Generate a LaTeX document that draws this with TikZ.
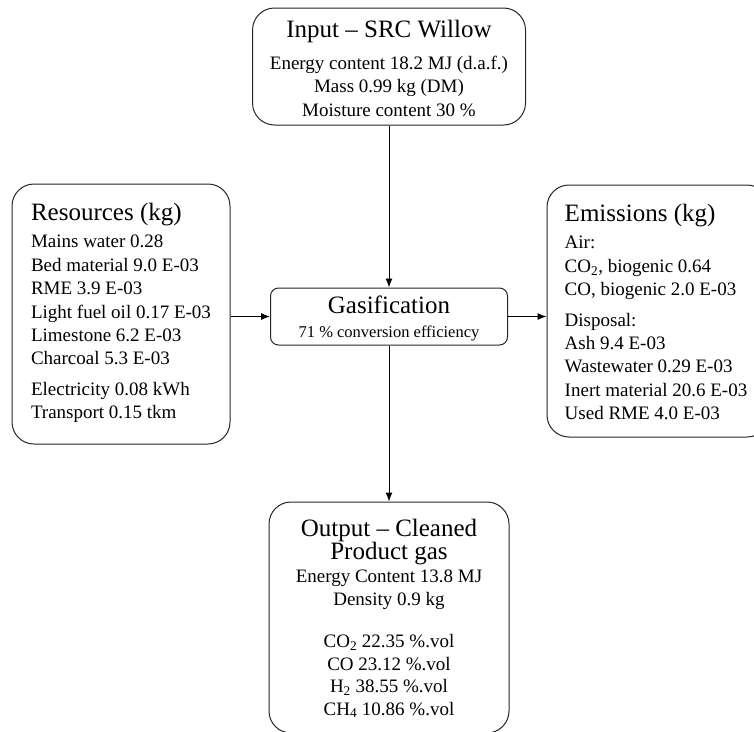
\documentclass[tikz,border=0pt]{standalone}
\usepackage{fontspec}
\setmainfont{Liberation Serif}
\usetikzlibrary{arrows.meta}
\newcommand{\ttlfont}{\fontsize{25}{28}\selectfont}
\newcommand{\bdyfont}{\fontsize{19}{23.4}\selectfont}
\newcommand{\smlfont}{\fontsize{16.5}{19}\selectfont}
\begin{document}
\begin{tikzpicture}[x=1pt,y=-1pt,
  box/.style={draw=black!85, line width=1pt, rounded corners=22pt, inner sep=0pt},
  gbox/.style={draw=black!85, line width=1pt, rounded corners=8pt, inner sep=0pt},
  txt/.style={inner sep=0pt, font=\bdyfont},
  arr/.style={draw=black, line width=1pt, -{Latex[length=9pt,width=7pt]}},
]
\useasboundingbox (0,0) rectangle (754,731);
% boxes
\node[box, minimum width=273pt, minimum height=117pt] (input) at (389,66.5) {};
\node[box, minimum width=218pt, minimum height=260pt] (res) at (121,314) {};
\node[box, minimum width=222pt, minimum height=252pt] (emi) at (658,311) {};
\node[gbox, minimum width=237pt, minimum height=57pt] (gas) at (389,316.5) {};
\node[box, minimum width=240pt, minimum height=231pt] (out) at (389,617.5) {};
% texts
\node[txt, align=center] (inputtxt) at ([yshift=-2pt]input.center)
  {{\ttlfont Input -- SRC Willow}\\[8pt]
   Energy content 18.2 MJ (d.a.f.)\\
   Mass 0.99 kg (DM)\\
   Moisture content 30 \%};
\node[txt, align=left] (restxt) at ([yshift=1pt]res.center)
  {{\ttlfont Resources (kg)}\\[4pt]
   Mains water 0.28\\
   Bed material 9.0 E-03\\
   RME 3.9 E-03\\
   Light fuel oil 0.17 E-03\\
   Limestone 6.2 E-03\\
   Charcoal 5.3 E-03\\[7pt]
   Electricity 0.08 kWh\\
   Transport 0.15 tkm};
\node[txt, align=left] (emitxt) at ([xshift=-2pt,yshift=-1pt]emi.center)
  {{\ttlfont Emissions (kg)}\\[4pt]
   Air:\\
   CO\textsubscript{2}, biogenic 0.64\\
   CO, biogenic 2.0 E-03\\[7pt]
   Disposal:\\
   Ash 9.4 E-03\\
   Wastewater 0.29 E-03\\
   Inert material 20.6 E-03\\
   Used RME 4.0 E-03};
\node[txt, align=center] (gastxt) at ([yshift=-2pt]gas.center)
  {{\ttlfont Gasification}\\[1pt]
   {\smlfont 71 \% conversion efficiency}};
\node[txt, align=center] (outtxt) at ([yshift=-1pt]out.center)
  {{\ttlfont Output -- Cleaned}\\
   {\ttlfont Product gas}\\[-1pt]
   Energy Content 13.8 MJ\\
   Density 0.9 kg\\[19pt]
   CO\textsubscript{2} 22.35 \%.vol\\[-1pt]
   CO 23.12 \%.vol\\[-1pt]
   H\textsubscript{2} 38.55 \%.vol\\[-1pt]
   CH\textsubscript{4} 10.86 \%.vol};
% connectors
\draw[arr] (input.south) -- (gas.north);
\draw[arr] (res.east |- gas.west) -- (gas.west);
\draw[arr] (gas.east) -- (emi.west |- gas.east);
\draw[arr] (gas.south) -- (out.north);
\end{tikzpicture}
\end{document}
